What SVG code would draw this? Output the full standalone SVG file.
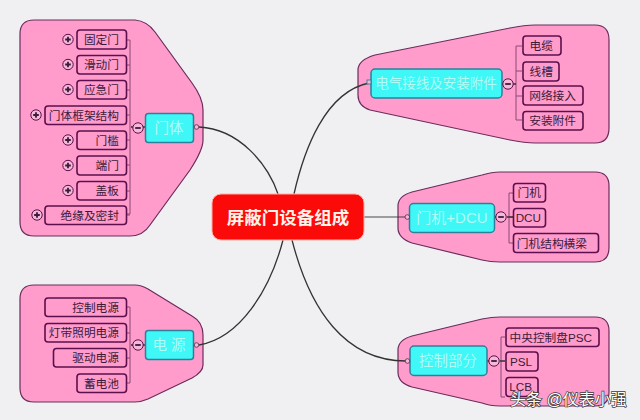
<svg xmlns="http://www.w3.org/2000/svg" width="640" height="420" viewBox="0 0 640 420">
<style>
text{font-family:"Liberation Sans","Noto Sans CJK SC",sans-serif}
.blob{fill:#ff9ccb;stroke:#6b2c5c;stroke-width:1.2}
.leaf rect{fill:#ff9ccb;stroke:#5c0f4c;stroke-width:1.6}
.leaf text{font-size:11.700px;fill:#3d1a3a;text-anchor:end}
.main rect{fill:#3ff7f7;stroke:#2f7f9a;stroke-width:1.5}
.main text{font-size:14.500px;fill:#b4fbf4;text-anchor:middle}
.bar{fill:none;stroke:#8a4a78;stroke-width:1}
.edge{fill:none;stroke:#333;stroke-width:1.3}
.tog{fill:#f6b8d8;stroke:#5c0f4c;stroke-width:1}
.sign{stroke:#3d1a3a;stroke-width:1.8}
.pin{fill:#f6b8d8;stroke:#5c3a55;stroke-width:.9}
</style>
<defs>
<g id="minus"><circle class="tog" r="5.2"/><path class="sign" d="M-2.800 0H2.800"/></g>
<g id="plus"><circle class="tog" r="5.2"/><path class="sign" d="M-2.800 0H2.800M0-2.800V2.800"/></g>
</defs>
<rect width="640" height="420" fill="#f0f0f2"/>

<g id="group-blobs">
<path class="blob" d="M34 20H135Q147 21 155 32L192 83Q203 98 203 110V140Q203 150 190 170L150 225Q143 236 130 236H34Q20 236 20 222V34Q20 20 34 20Z"/>
<path class="blob" d="M34 285H135Q141 285 148 289L192 316Q203 322 203 335V365Q203 372 192 378L148 399Q141 402 135 402H34Q20 402 20 388V299Q20 285 34 285Z"/>
<path class="blob" d="M375 55L510 28Q525 25 535 25H595Q609 25 609 40V128Q609 143 595 143H535Q525 143 510 140L370 110Q358 106 358 95V70Q358 60 375 55Z"/>
<path class="blob" d="M412 192L482 175Q492 172 500 172H595Q609 172 609 186V248Q609 262 595 262H500Q490 262 482 260L412 243Q398 238 398 228V206Q398 196 412 192Z"/>
<path class="blob" d="M412 336L482 319Q492 317 500 317H595Q609 317 609 331V392Q609 406 595 406H500Q490 406 482 403L412 387Q398 383 398 372V350Q398 340 412 336Z"/>
</g>

<g id="connectors">
<path class="edge" d="M199 127C240 129 268 165 278 194"/>
<path class="edge" d="M294 194C304 150 325 92 369 83"/>
<path class="edge" d="M364 217H406" stroke-opacity=".6"/>
<path class="edge" d="M283 240C270 290 240 338 199 345"/>
<path class="edge" d="M292 240C310 310 345 361 406 361"/>
<path class="bar" d="M127 40H130V214H127M127 65H130M127 90H130M127 115H130M127 140H130M127 165H130M127 191H130M127 215H130"/>
<path class="bar" d="M127 307H130V383H127M127 333H130M127 358H130"/>
<path class="bar" d="M522 46H516V120H522M522 71H516M522 96H516"/>
<path class="bar" d="M513 193H509V243H513M513 217H509"/>
<path class="bar" d="M505 337H501V397H505"/>
<path class="edge" d="M131 127H134M140 127H145M131 345H133M143 345H145M500 361H505M495 217H497M507 217H513M502 84H503M513 84H516M487 361H489" stroke="#5c0f4c"/>
</g>

<g id="root"><rect x="212" y="194" width="152" height="46" rx="9" fill="#fb0a0a" stroke="#ffb0a0" stroke-width="1"/><text x="288" y="224" font-size="17.500" font-weight="700" fill="#fff3ea" text-anchor="middle">屏蔽门设备组成</text></g>

<g id="n-mengti" class="main"><rect x="145.500" y="113.500" width="48" height="29" rx="3"/><text x="169" y="133">门体</text><use href="#minus" x="138" y="128"/><circle class="pin" cx="196.500" cy="127" r="2.300"/></g>
<g id="n-dianqi" class="main"><rect x="371" y="69" width="131" height="29" rx="4"/><text x="436" y="88" style="font-size:13.500px">电气接线及安装附件</text><use href="#minus" x="508" y="84"/><rect x="367" y="80" width="4" height="4" style="fill:#f6b8d8;stroke-width:.9"/></g>
<g id="n-dcu" class="main"><rect x="409.500" y="203.500" width="85" height="29" rx="4"/><text x="452" y="223" style="font-size:15px">门机+DCU</text><use href="#minus" x="501" y="217"/><circle class="pin" cx="407.300" cy="217" r="2.300"/></g>
<g id="n-kongzhi" class="main"><rect x="410" y="346" width="77" height="29.500" rx="4"/><text x="448" y="366">控制部分</text><use href="#minus" x="494" y="361"/><circle class="pin" cx="407.500" cy="361" r="2.300"/></g>
<g id="n-dianyuan" class="main"><rect x="145.500" y="330.500" width="48" height="29" rx="3"/><text x="169" y="350" xml:space="preserve">电 源</text><use href="#minus" x="138" y="345"/><circle class="pin" cx="196.500" cy="345" r="2.300"/></g>

<g id="l1" class="leaf"><use href="#plus" x="68" y="39.500"/><rect x="77" y="30" width="49.500" height="19" rx="3"/><text x="119" y="44">固定门</text></g>
<g id="l2" class="leaf"><use href="#plus" x="68" y="64.500"/><rect x="77" y="55.500" width="49.500" height="18.500" rx="3"/><text x="119" y="69">滑动门</text></g>
<g id="l3" class="leaf"><use href="#plus" x="68" y="89.500"/><rect x="77" y="80.500" width="49.500" height="18.500" rx="3"/><text x="119" y="94">应急门</text></g>
<g id="l4" class="leaf"><use href="#plus" x="36" y="115"/><rect x="45" y="106" width="81.500" height="18.500" rx="3"/><text x="119" y="119.500">门体框架结构</text></g>
<g id="l5" class="leaf"><use href="#plus" x="68" y="140"/><rect x="77" y="131" width="49.500" height="18.500" rx="3"/><text x="119" y="144.500">门槛</text></g>
<g id="l6" class="leaf"><use href="#plus" x="68" y="165.500"/><rect x="77" y="156" width="49.500" height="19" rx="3"/><text x="119" y="170">端门</text></g>
<g id="l7" class="leaf"><use href="#plus" x="68" y="190.500"/><rect x="77" y="181.500" width="49.500" height="18.500" rx="3"/><text x="119" y="195">盖板</text></g>
<g id="l8" class="leaf"><use href="#plus" x="37" y="215"/><rect x="45" y="206" width="81.500" height="18.500" rx="3"/><text x="119" y="219.500">绝缘及密封</text></g>

<g id="p1" class="leaf"><rect x="45" y="298" width="81.500" height="18.500" rx="3"/><text x="119" y="312">控制电源</text></g>
<g id="p2" class="leaf"><rect x="45" y="323.500" width="81.500" height="18.500" rx="3"/><text x="119" y="337">灯带照明电源</text></g>
<g id="p3" class="leaf"><rect x="53.500" y="348.500" width="73" height="18.500" rx="3"/><text x="119" y="362">驱动电源</text></g>
<g id="p4" class="leaf"><rect x="77" y="374" width="49.500" height="18.500" rx="3"/><text x="119" y="388">蓄电池</text></g>

<g id="e1" class="leaf"><rect x="523" y="36" width="38" height="19" rx="3"/><text x="553" y="50">电缆</text></g>
<g id="e2" class="leaf"><rect x="523" y="62" width="36" height="19" rx="3"/><text x="553" y="76">线槽</text></g>
<g id="e3" class="leaf"><rect x="523" y="86" width="60" height="19" rx="3"/><text x="576" y="100">网络接入</text></g>
<g id="e4" class="leaf"><rect x="523" y="111.500" width="60" height="18.500" rx="3"/><text x="576" y="125">安装附件</text></g>

<g id="d1" class="leaf"><rect x="513.500" y="183.500" width="32" height="18.500" rx="3"/><text x="541" y="197">门机</text></g>
<g id="d2" class="leaf"><rect x="513.500" y="208.500" width="32" height="18.500" rx="3"/><text x="541" y="222">DCU</text></g>
<g id="d3" class="leaf"><rect x="513.500" y="233.500" width="85" height="19" rx="3"/><text x="587" y="248">门机结构横梁</text></g>

<g id="c1" class="leaf"><rect x="506" y="328" width="93" height="18.500" rx="3"/><text x="592" y="342">中央控制盘PSC</text></g>
<g id="c2" class="leaf"><rect x="506" y="352" width="32" height="19" rx="3"/><text x="532" y="366">PSL</text></g>
<g id="c3" class="leaf"><rect x="506" y="377.500" width="32" height="19" rx="3"/><text x="532" y="391">LCB</text></g>

<text x="510" y="405" font-size="16" fill="#fff" stroke="#3a3a3a" stroke-width="1.400" paint-order="stroke">头条 @仪表小强</text>
</svg>
